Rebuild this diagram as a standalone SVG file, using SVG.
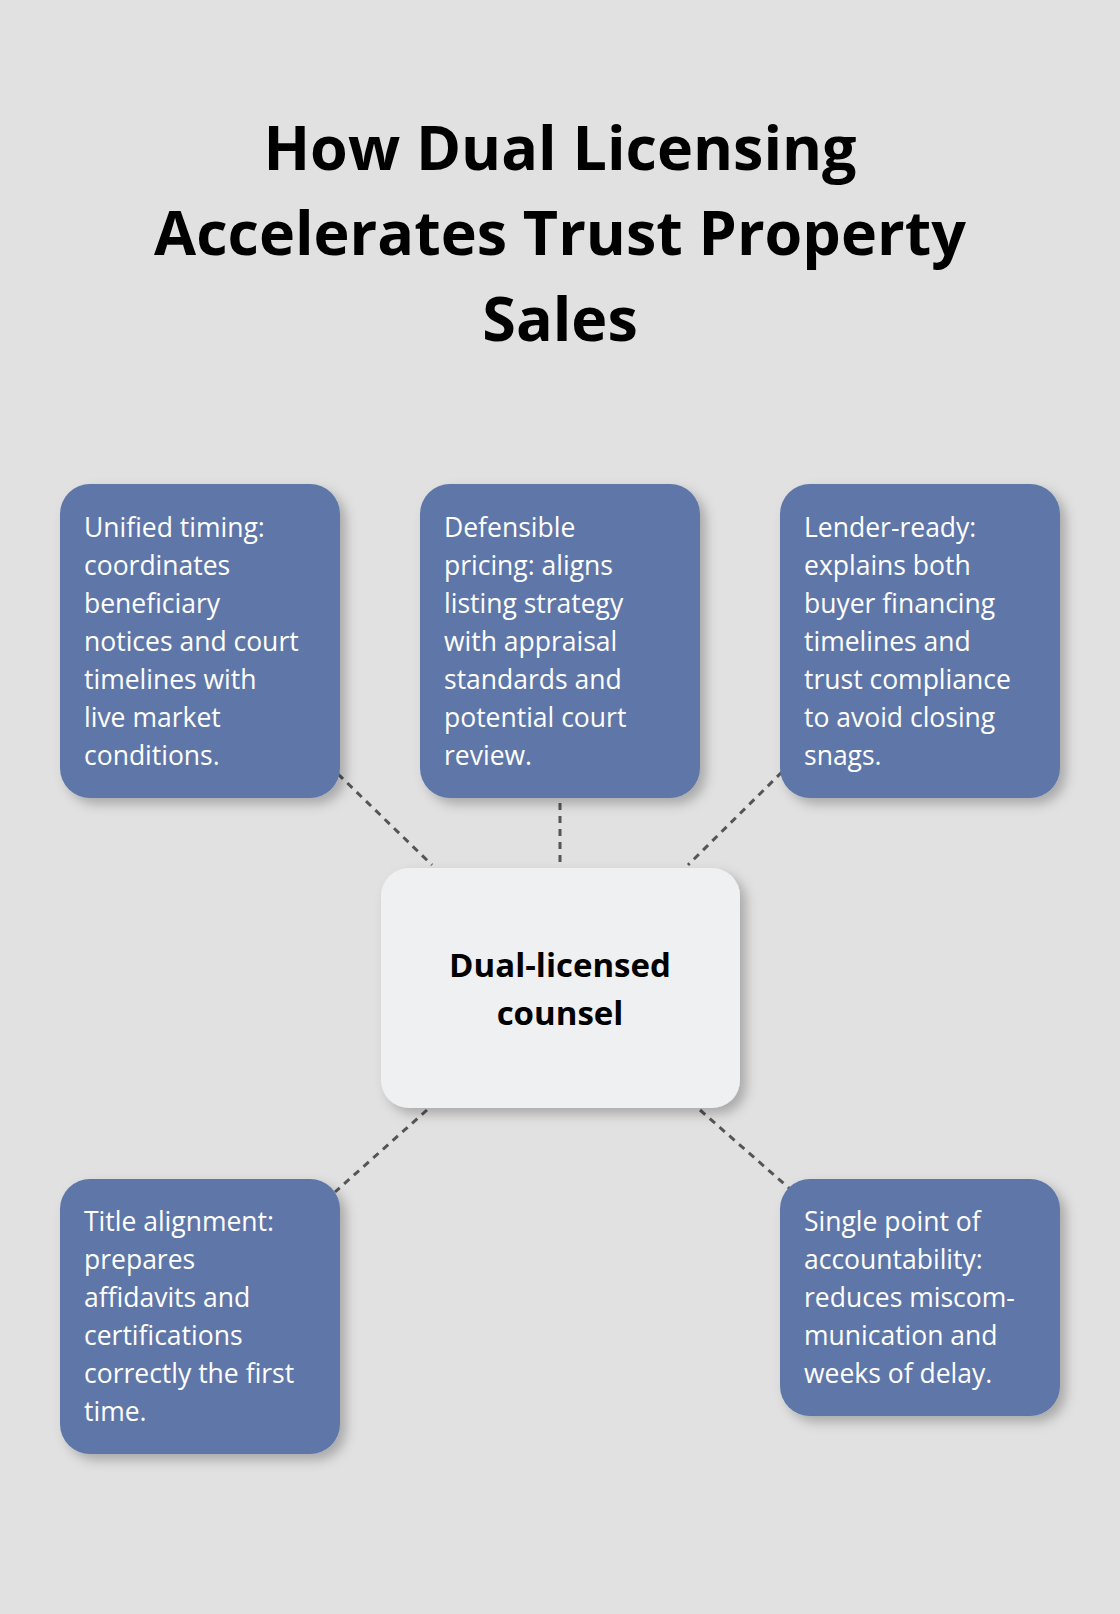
<svg xmlns="http://www.w3.org/2000/svg" width="1120" height="1614" viewBox="0 0 1120 1614">
<defs>
<filter id="sh" x="-20%" y="-20%" width="150%" height="150%"><feDropShadow dx="6" dy="6" stdDeviation="6" flood-color="#000" flood-opacity="0.25"/></filter>
</defs>
<style>
.t{font-family:"Open Sans","Noto Sans",sans-serif;font-weight:700;font-size:61px;fill:#000;text-anchor:middle}
.b{fill:#5e77a8;filter:url(#sh)}
.bt{font-family:"Open Sans","Noto Sans",sans-serif;font-size:26.5px;fill:#fff}
.c{font-family:"Open Sans","Noto Sans",sans-serif;font-weight:700;font-size:33px;fill:#000;text-anchor:middle}
.ln{stroke:#555;stroke-width:3;stroke-dasharray:7 6;fill:none}
</style>
<rect width="1120" height="1614" fill="#e0e1e0"/>
<g id="title">
<text class="t" x="560" y="170">How Dual Licensing</text>
<text class="t" x="560" y="255">Accelerates Trust Property</text>
<text class="t" x="560" y="341">Sales</text>
</g>
<g id="connectors">
<line class="ln" x1="338" y1="774" x2="432" y2="865"/>
<line class="ln" x1="560" y1="803" x2="560" y2="862"/>
<line class="ln" x1="782" y1="772" x2="688" y2="865"/>
<line class="ln" x1="427" y1="1110" x2="335" y2="1192"/>
<line class="ln" x1="700" y1="1110" x2="790" y2="1189"/>
</g>
<g id="center">
<rect x="381" y="868" width="359" height="240" rx="28" fill="#eff0f2" filter="url(#sh)"/>
<text class="c" x="560" y="977">Dual-licensed</text>
<text class="c" x="560" y="1025">counsel</text>
</g>
<g id="n1">
<rect class="b" x="60" y="484" width="280" height="314" rx="30"/>
<text class="bt" x="84" y="537">Unified timing:</text>
<text class="bt" x="84" y="575">coordinates</text>
<text class="bt" x="84" y="613">beneficiary</text>
<text class="bt" x="84" y="651">notices and court</text>
<text class="bt" x="84" y="689">timelines with</text>
<text class="bt" x="84" y="727">live market</text>
<text class="bt" x="84" y="765">conditions.</text>
</g>
<g id="n2">
<rect class="b" x="420" y="484" width="280" height="314" rx="30"/>
<text class="bt" x="444" y="537">Defensible</text>
<text class="bt" x="444" y="575">pricing: aligns</text>
<text class="bt" x="444" y="613">listing strategy</text>
<text class="bt" x="444" y="651">with appraisal</text>
<text class="bt" x="444" y="689">standards and</text>
<text class="bt" x="444" y="727">potential court</text>
<text class="bt" x="444" y="765">review.</text>
</g>
<g id="n3">
<rect class="b" x="780" y="484" width="280" height="314" rx="30"/>
<text class="bt" x="804" y="537">Lender-ready:</text>
<text class="bt" x="804" y="575">explains both</text>
<text class="bt" x="804" y="613">buyer financing</text>
<text class="bt" x="804" y="651">timelines and</text>
<text class="bt" x="804" y="689">trust compliance</text>
<text class="bt" x="804" y="727">to avoid closing</text>
<text class="bt" x="804" y="765">snags.</text>
</g>
<g id="n4">
<rect class="b" x="60" y="1179" width="280" height="275" rx="30"/>
<text class="bt" x="84" y="1231">Title alignment:</text>
<text class="bt" x="84" y="1269">prepares</text>
<text class="bt" x="84" y="1307">affidavits and</text>
<text class="bt" x="84" y="1345">certifications</text>
<text class="bt" x="84" y="1383">correctly the first</text>
<text class="bt" x="84" y="1421">time.</text>
</g>
<g id="n5">
<rect class="b" x="780" y="1179" width="280" height="237" rx="30"/>
<text class="bt" x="804" y="1231">Single point of</text>
<text class="bt" x="804" y="1269">accountability:</text>
<text class="bt" x="804" y="1307">reduces miscom-</text>
<text class="bt" x="804" y="1345">munication and</text>
<text class="bt" x="804" y="1383">weeks of delay.</text>
</g>
</svg>
